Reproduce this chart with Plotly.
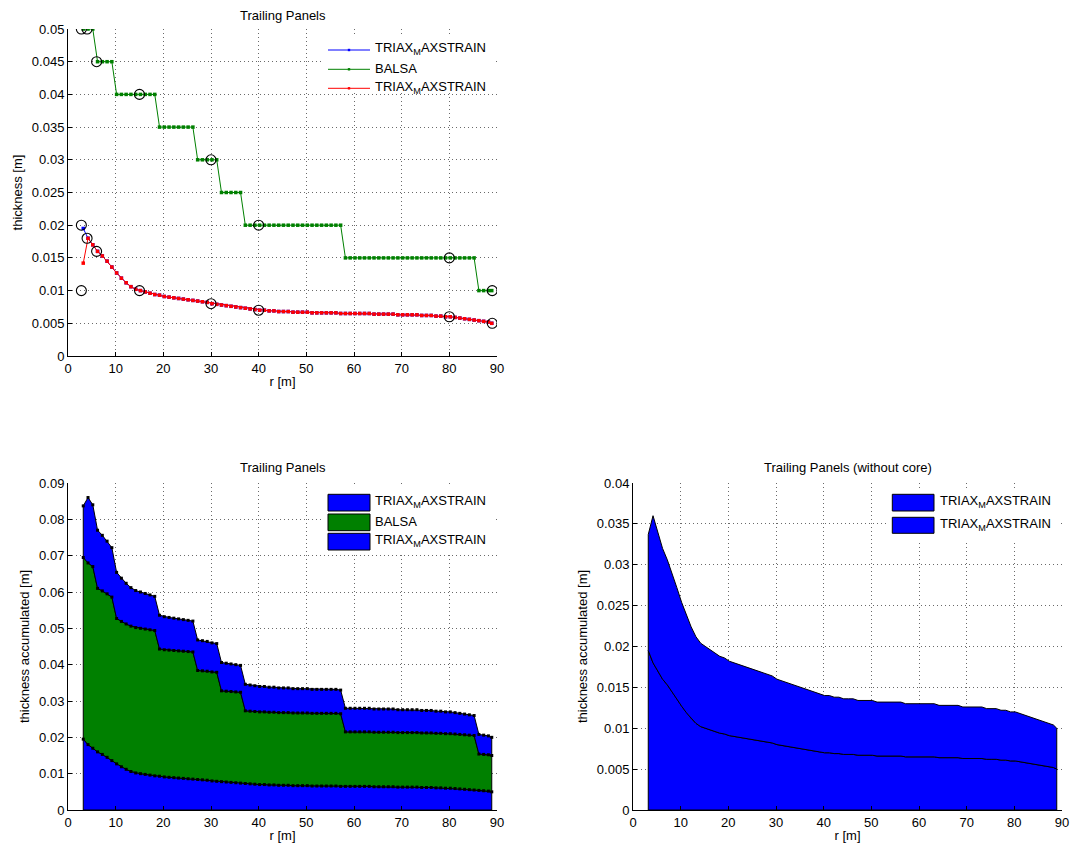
import plotly.graph_objects as go

W, H = 1073, 850

# Radial stations along the blade [m]
r_m = [3.2, 4.2, 5.2, 6.2, 7.2, 8.2, 9.2, 10.2, 11.2, 12.2,
       13.2, 14.2, 15.2, 16.2, 17.2, 18.2, 19.2, 20.2, 21.2, 22.2,
       23.2, 24.2, 25.2, 26.2, 27.2, 28.2, 29.2, 30.2, 31.2, 32.2,
       33.2, 34.2, 35.2, 36.2, 37.2, 38.2, 39.2, 40.2, 41.2, 42.2,
       43.2, 44.2, 45.2, 46.2, 47.2, 48.2, 49.2, 50.2, 51.2, 52.2,
       53.2, 54.2, 55.2, 56.2, 57.2, 58.2, 59.2, 60.2, 61.2, 62.2,
       63.2, 64.2, 65.2, 66.2, 67.2, 68.2, 69.2, 70.2, 71.2, 72.2,
       73.2, 74.2, 75.2, 76.2, 77.2, 78.2, 79.2, 80.2, 81.2, 82.2,
       83.2, 84.2, 85.2, 86.2, 87.2, 88.2, 88.9]

# Inner triax skin thickness [m]
triax_inner = [0.0195, 0.0180, 0.0170, 0.0160, 0.0153, 0.0145, 0.0136, 0.0127, 0.0119, 0.0112,
               0.0106, 0.0102, 0.0100, 0.0098, 0.0096, 0.0094, 0.0093, 0.0091, 0.0090, 0.0089,
               0.0088, 0.0087, 0.0086, 0.0085, 0.0084, 0.0083, 0.0082, 0.0080, 0.0079, 0.0078,
               0.0077, 0.0076, 0.0075, 0.0074, 0.0073, 0.0072, 0.0071, 0.0070, 0.0070, 0.0069,
               0.0069, 0.0068, 0.0068, 0.0068, 0.0067, 0.0067, 0.0067, 0.0067, 0.0066, 0.0066,
               0.0066, 0.0066, 0.0066, 0.0066, 0.0065, 0.0065, 0.0065, 0.0065, 0.0065, 0.0065,
               0.0065, 0.0064, 0.0064, 0.0064, 0.0064, 0.0064, 0.0063, 0.0063, 0.0063, 0.0063,
               0.0063, 0.0062, 0.0062, 0.0062, 0.0061, 0.0061, 0.0060, 0.0060, 0.0059, 0.0058,
               0.0057, 0.0056, 0.0055, 0.0054, 0.0053, 0.0052, 0.0050]

# Outer triax skin thickness [m]
triax_outer = [0.0142, 0.0180, 0.0170, 0.0160, 0.0153, 0.0145, 0.0136, 0.0127, 0.0119, 0.0112,
               0.0106, 0.0102, 0.0100, 0.0098, 0.0096, 0.0094, 0.0093, 0.0091, 0.0090, 0.0089,
               0.0088, 0.0087, 0.0086, 0.0085, 0.0084, 0.0083, 0.0082, 0.0080, 0.0079, 0.0078,
               0.0077, 0.0076, 0.0075, 0.0074, 0.0073, 0.0072, 0.0071, 0.0070, 0.0070, 0.0069,
               0.0069, 0.0068, 0.0068, 0.0068, 0.0067, 0.0067, 0.0067, 0.0067, 0.0066, 0.0066,
               0.0066, 0.0066, 0.0066, 0.0066, 0.0065, 0.0065, 0.0065, 0.0065, 0.0065, 0.0065,
               0.0065, 0.0064, 0.0064, 0.0064, 0.0064, 0.0064, 0.0063, 0.0063, 0.0063, 0.0063,
               0.0063, 0.0062, 0.0062, 0.0062, 0.0061, 0.0061, 0.0060, 0.0060, 0.0059, 0.0058,
               0.0057, 0.0056, 0.0055, 0.0054, 0.0053, 0.0052, 0.0050]

# Balsa core thickness [m]
balsa = [0.050, 0.050, 0.050, 0.045, 0.045, 0.045, 0.045, 0.040, 0.040, 0.040,
         0.040, 0.040, 0.040, 0.040, 0.040, 0.040, 0.035, 0.035, 0.035, 0.035,
         0.035, 0.035, 0.035, 0.035, 0.030, 0.030, 0.030, 0.030, 0.030, 0.025,
         0.025, 0.025, 0.025, 0.025, 0.020, 0.020, 0.020, 0.020, 0.020, 0.020,
         0.020, 0.020, 0.020, 0.020, 0.020, 0.020, 0.020, 0.020, 0.020, 0.020,
         0.020, 0.020, 0.020, 0.020, 0.020, 0.015, 0.015, 0.015, 0.015, 0.015,
         0.015, 0.015, 0.015, 0.015, 0.015, 0.015, 0.015, 0.015, 0.015, 0.015,
         0.015, 0.015, 0.015, 0.015, 0.015, 0.015, 0.015, 0.015, 0.015, 0.015,
         0.015, 0.015, 0.015, 0.010, 0.010, 0.010, 0.010]

# Design control points
ctrl_r_balsa = [2.8, 4, 6, 15, 30, 40, 80, 89]
ctrl_t_balsa = [0.05, 0.05, 0.045, 0.04, 0.03, 0.02, 0.015, 0.01]
ctrl_r_triax = [2.8, 2.8, 4, 6, 15, 30, 40, 80, 89]
ctrl_t_triax = [0.02, 0.01, 0.018, 0.016, 0.01, 0.008, 0.007, 0.006, 0.005]

x_ticks = [0, 10, 20, 30, 40, 50, 60, 70, 80, 90]
x_ticktext = ["0", "10", "20", "30", "40", "50", "60", "70", "80", "90"]
y1_ticks = [0, 0.005, 0.01, 0.015, 0.02, 0.025, 0.03, 0.035, 0.04, 0.045, 0.05]
y1_ticktext = ["0", "0.005", "0.01", "0.015", "0.02", "0.025", "0.03", "0.035", "0.04", "0.045", "0.05"]
y2_ticks = [0, 0.01, 0.02, 0.03, 0.04, 0.05, 0.06, 0.07, 0.08, 0.09]
y2_ticktext = ["0", "0.01", "0.02", "0.03", "0.04", "0.05", "0.06", "0.07", "0.08", "0.09"]
y3_ticks = [0, 0.005, 0.01, 0.015, 0.02, 0.025, 0.03, 0.035, 0.04]
y3_ticktext = ["0", "0.005", "0.01", "0.015", "0.02", "0.025", "0.03", "0.035", "0.04"]

LEG_NAME = "TRIAX<sub>M</sub>AXSTRAIN"
BLUE = "#0000ff"
GREEN = "#008000"
RED = "#ff0000"
FONT = "Liberation Sans, Arial, Helvetica, sans-serif"
FS = 13


def px_x(p):
    return p / W


def px_y(p):
    return 1 - p / H


# stacked sums
cum1 = list(triax_inner)
cum2 = [a + b for a, b in zip(cum1, balsa)]
cum3 = [a + b for a, b in zip(cum2, triax_outer)]
core_free = [a + b for a, b in zip(triax_inner, triax_outer)]

fig = go.Figure()

# ---- top: individual thickness distributions ----
for y, col, nm in [(triax_inner, BLUE, LEG_NAME), (balsa, GREEN, "BALSA"), (triax_outer, RED, LEG_NAME)]:
    fig.add_trace(go.Scatter(x=r_m, y=y, mode="lines+markers", name=nm,
                             line=dict(color=col, width=1),
                             marker=dict(color=col, size=3.5, symbol="square"),
                             xaxis="x", yaxis="y", showlegend=False))
for xs, ys in [(ctrl_r_balsa, ctrl_t_balsa), (ctrl_r_triax, ctrl_t_triax)]:
    fig.add_trace(go.Scatter(x=xs, y=ys, mode="markers",
                             marker=dict(symbol="circle-open", size=10, color="black",
                                         line=dict(width=1.1, color="black")),
                             xaxis="x", yaxis="y", showlegend=False))


def band(lo, hi, color, xa, ya):
    if lo is None:
        xs = r_m + [r_m[-1], r_m[0]]
        ys = hi + [0, 0]
    else:
        xs = r_m + r_m[::-1]
        ys = hi + lo[::-1]
    xs = xs + [xs[0]]
    ys = ys + [ys[0]]
    fig.add_trace(go.Scatter(x=xs, y=ys, mode="lines", fill="toself",
                             fillcolor=color, line=dict(color="black", width=1),
                             xaxis=xa, yaxis=ya, showlegend=False, hoverinfo="skip"))


# ---- bottom left: accumulated thickness ----
band(None, cum1, BLUE, "x2", "y2")
band(cum1, cum2, GREEN, "x2", "y2")
band(cum2, cum3, BLUE, "x2", "y2")
for y in (cum1, cum2, cum3):
    fig.add_trace(go.Scatter(x=r_m, y=y, mode="markers",
                             marker=dict(color="black", size=3, symbol="square"),
                             xaxis="x2", yaxis="y2", showlegend=False))

# ---- bottom right: accumulated without core ----
band(None, triax_inner, BLUE, "x3", "y3")
band(triax_inner, core_free, BLUE, "x3", "y3")

# ---- axes ----
xl = [px_x(68), px_x(497)]
xr = [px_x(633), px_x(1062)]
yt = [px_y(356), px_y(29)]
yb = [px_y(810), px_y(483)]

common = dict(showline=True, linecolor="black", linewidth=1, ticks="inside", ticklen=4,
              tickcolor="black", showgrid=True, gridcolor="#6a6a6a", griddash="1px,3px",
              gridwidth=1, zeroline=False, mirror=False,
              tickfont=dict(family=FONT, size=FS, color="black"), automargin=False)

title_font = dict(family=FONT, size=FS, color="black")

fig.update_layout(
    xaxis=dict(domain=xl, anchor="y", range=[0, 90], tickvals=x_ticks, ticktext=x_ticktext,
               title=dict(text="r [m]", font=title_font, standoff=2), **common),
    yaxis=dict(domain=yt, anchor="x", range=[0, 0.05], tickvals=y1_ticks, ticktext=y1_ticktext,
               title=dict(text="thickness [m]", font=title_font, standoff=6), **common),
    xaxis2=dict(domain=xl, anchor="y2", range=[0, 90], tickvals=x_ticks, ticktext=x_ticktext,
                title=dict(text="r [m]", font=title_font, standoff=2), **common),
    yaxis2=dict(domain=yb, anchor="x2", range=[0, 0.09], tickvals=y2_ticks, ticktext=y2_ticktext,
                title=dict(text="thickness accumulated [m]", font=title_font, standoff=6), **common),
    xaxis3=dict(domain=xr, anchor="y3", range=[0, 90], tickvals=x_ticks, ticktext=x_ticktext,
                title=dict(text="r [m]", font=title_font, standoff=2), **common),
    yaxis3=dict(domain=yb, anchor="x3", range=[0, 0.04], tickvals=y3_ticks, ticktext=y3_ticktext,
                title=dict(text="thickness accumulated [m]", font=title_font, standoff=6), **common),
)

annotations = []
for cx, cy, txt in [((68 + 497) / 2, 15, "Trailing Panels"),
                    ((68 + 497) / 2, 468, "Trailing Panels"),
                    ((633 + 1062) / 2, 468, "Trailing Panels (without core)")]:
    annotations.append(dict(x=px_x(cx), y=px_y(cy), xref="paper", yref="paper", text=txt,
                            showarrow=False, xanchor="center", yanchor="middle", font=title_font))

shapes = []
LEG_FONT = dict(family=FONT, size=FS, color="black")

# ---- legend boxes ----
# top legend: line samples
shapes.append(dict(type="rect", xref="paper", yref="paper", x0=px_x(324), x1=px_x(495),
                   y0=px_y(93), y1=px_y(34), fillcolor="white", line=dict(width=0), layer="above"))
for yy, col, nm in [(50, BLUE, LEG_NAME), (69.3, GREEN, "BALSA"), (88.3, RED, LEG_NAME)]:
    shapes.append(dict(type="line", xref="paper", yref="paper", x0=px_x(328), x1=px_x(370),
                       y0=px_y(yy), y1=px_y(yy), line=dict(color=col, width=1), layer="above"))
    shapes.append(dict(type="rect", xref="paper", yref="paper", x0=px_x(347.8), x1=px_x(350.2),
                       y0=px_y(yy + 1.2), y1=px_y(yy - 1.2), fillcolor=col, line=dict(width=0),
                       layer="above"))
    annotations.append(dict(x=px_x(373), y=px_y(yy - 1), xref="paper", yref="paper", text=nm,
                            showarrow=False, xanchor="left", yanchor="middle", font=LEG_FONT))

# bottom-left legend: patches
shapes.append(dict(type="rect", xref="paper", yref="paper", x0=px_x(324), x1=px_x(495),
                   y0=px_y(553), y1=px_y(487), fillcolor="white", line=dict(width=0), layer="above"))
for (y0p, y1p), col, nm in [((494.3, 511), BLUE, LEG_NAME), ((514, 530.7), GREEN, "BALSA"),
                            ((533.3, 550), BLUE, LEG_NAME)]:
    shapes.append(dict(type="rect", xref="paper", yref="paper", x0=px_x(328), x1=px_x(370),
                       y0=px_y(y1p), y1=px_y(y0p), fillcolor=col,
                       line=dict(color="black", width=1), layer="above"))
    annotations.append(dict(x=px_x(373), y=px_y((y0p + y1p) / 2 - 1), xref="paper", yref="paper",
                            text=nm, showarrow=False, xanchor="left", yanchor="middle", font=LEG_FONT))

# bottom-right legend: patches
shapes.append(dict(type="rect", xref="paper", yref="paper", x0=px_x(888), x1=px_x(1061),
                   y0=px_y(540), y1=px_y(488), fillcolor="white", line=dict(width=0), layer="above"))
for (y0p, y1p), col, nm in [((494.3, 511), BLUE, LEG_NAME), ((517.3, 533.3), BLUE, LEG_NAME)]:
    shapes.append(dict(type="rect", xref="paper", yref="paper", x0=px_x(892.3), x1=px_x(934),
                       y0=px_y(y1p), y1=px_y(y0p), fillcolor=col,
                       line=dict(color="black", width=1), layer="above"))
    annotations.append(dict(x=px_x(938), y=px_y((y0p + y1p) / 2 - 1), xref="paper", yref="paper",
                            text=nm, showarrow=False, xanchor="left", yanchor="middle", font=LEG_FONT))

fig.update_layout(
    template="none",
    width=W, height=H,
    margin=dict(l=0, r=0, t=0, b=0),
    paper_bgcolor="white", plot_bgcolor="white",
    showlegend=False,
    font=dict(family=FONT, size=FS, color="black"),
    annotations=annotations,
    shapes=shapes,
)

fig.write_html("out.html")
